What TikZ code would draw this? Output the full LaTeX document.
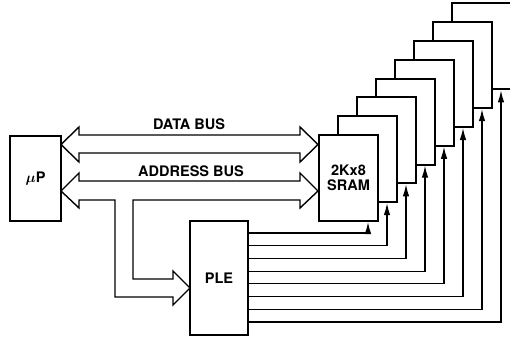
\documentclass[tikz,border=0pt]{standalone}
\usepackage{fontspec}
\setmainfont{TeX Gyre Heros}
\usetikzlibrary{arrows.meta}

\begin{document}
\begin{tikzpicture}[x=1pt, y=-1pt, every node/.style={font=\fontsize{14.5}{15.5}\selectfont\bfseries},
	>={Latex[length=12pt,width=6.5pt]},
	chip/.style={draw, line width=2pt, fill=white, inner sep=0pt},
	bus/.style={draw, line width=1.4pt, line join=miter},
	feed/.style={line width=1.2pt, ->}]
	\clip (0,0) rectangle (510,337);
	% stack of memories, drawn back to front
	\foreach \i in {8,...,1} {
		\node[chip, minimum width=59pt, minimum height=86pt] (sram\i) at ({348.5+19*(\i-1)}, {178-18.8*(\i-1)}) {};
	}
	\node[align=center] (sramtext) at (sram1.center) {2Kx8\\SRAM};
	\node[chip, minimum width=51pt, minimum height=85pt] (up) at (35.5,178.5) {{\boldmath$\mu$}P};
	\node[chip, minimum width=58pt, minimum height=114pt] (ple) at (219,278) {PLE};
	% the two buses
	\draw[bus] (61,144.5) -- (79,127) -- (79,135) -- (300,135) -- (300,127) -- (318,144.5)
		-- (300,162) -- (300,153) -- (79,153) -- (79,162) -- cycle;
	\draw[bus] (61,191) -- (79,173) -- (79,181) -- (300,181) -- (300,173) -- (318,191)
		-- (300,208) -- (300,200) -- (133,200) -- (133,279) -- (173,279) -- (173,271)
		-- (190,288) -- (173,305) -- (173,297) -- (115,297) -- (115,200) -- (79,200)
		-- (79,208) -- cycle;
	\node (databus) at (189,124) {DATA BUS};
	\node (addrbus) at (191,171.5) {ADDRESS BUS};
	% chip selects
	\foreach \i in {1,...,8} {
		\coordinate (cs\i) at ([yshift={-(13+12.7*(\i-1))}]ple.north east);
		\draw[feed] (cs\i) -| ([xshift=-11pt]sram\i.south east);
	}
\end{tikzpicture}
\end{document}
